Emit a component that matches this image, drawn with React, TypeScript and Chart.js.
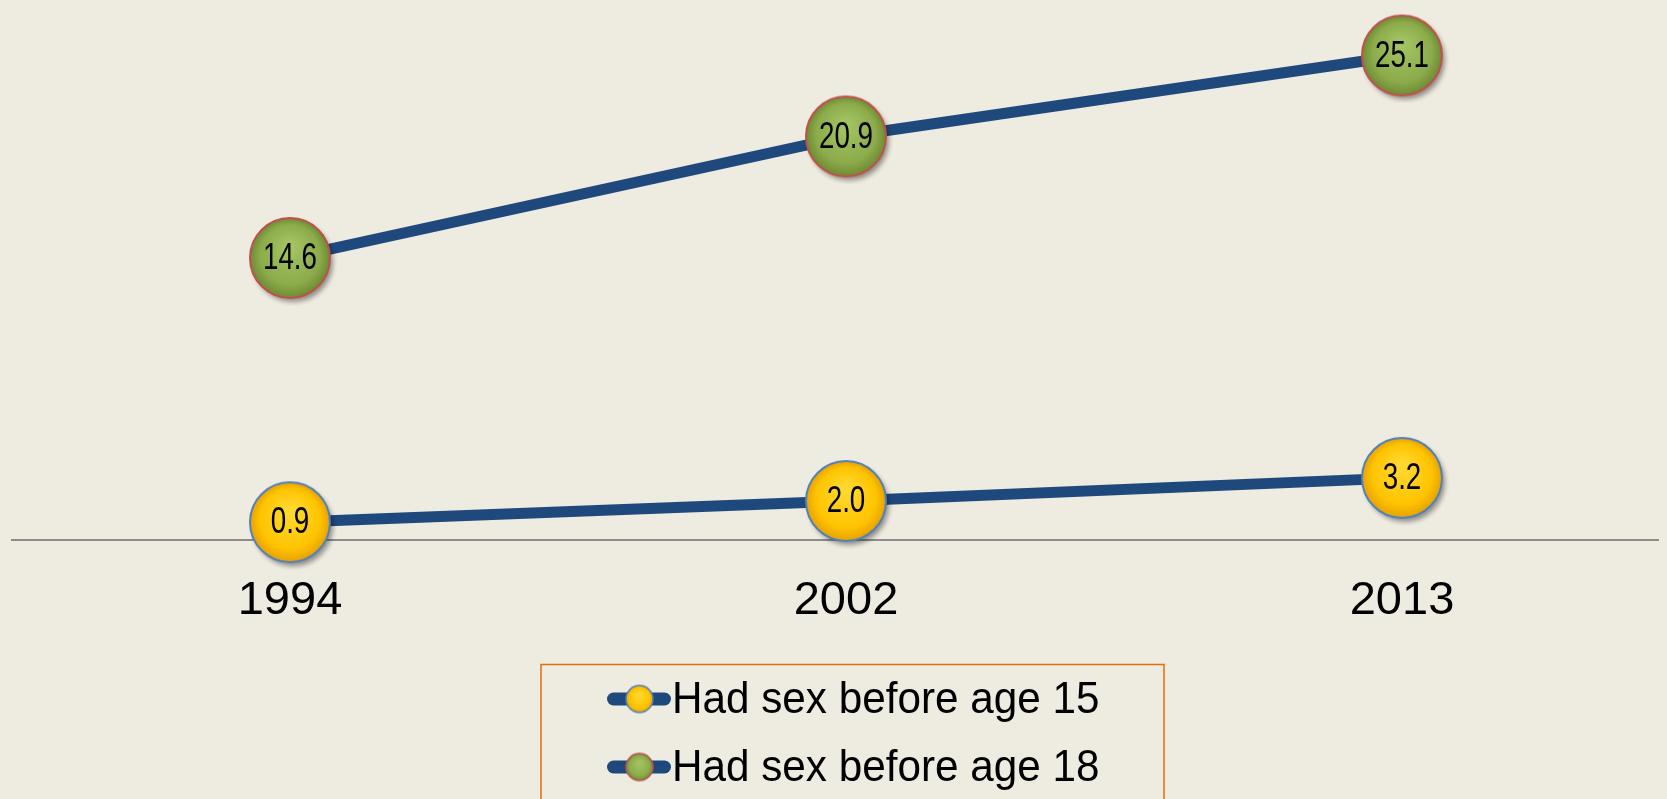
import React, { useEffect, useRef } from "react";
import { Chart, registerables } from "chart.js";

Chart.register(...registerables);

const years = ["1994", "2002", "2013"];
const before15 = [0.9, 2.0, 3.2];
const before18 = [14.6, 20.9, 25.1];
const seriesNames = ["Had sex before age 15", "Had sex before age 18"];

const BG = "#EEEBE0";
const LINE_COLOR = "#1F497D";

type MarkerColors = { inner: string; mid: string; outer: string; border: string };
const yellowMarker: MarkerColors = { inner: "#FFD82E", mid: "#FFC400", outer: "#E8A200", border: "#4F81BD" };
const greenMarker: MarkerColors = { inner: "#A3C262", mid: "#8CAB4B", outer: "#6E8B33", border: "#C0504D" };

function makeMarker(r: number, c: MarkerColors, shadow = true): HTMLCanvasElement {
  const pad = 8;
  const size = Math.ceil(2 * (r + pad));
  const cv = document.createElement("canvas");
  cv.width = size;
  cv.height = size;
  const ctx = cv.getContext("2d")!;
  const cx = size / 2;
  const cy = size / 2;
  if (shadow) {
    ctx.save();
    ctx.shadowColor = "rgba(0,0,0,0.4)";
    ctx.shadowBlur = 5;
    ctx.shadowOffsetX = 3;
    ctx.shadowOffsetY = 4;
    ctx.beginPath();
    ctx.arc(cx, cy, r, 0, Math.PI * 2);
    ctx.fillStyle = c.outer;
    ctx.fill();
    ctx.restore();
  }
  const g = ctx.createRadialGradient(cx, cy - r * 0.3, r * 0.1, cx, cy, r);
  g.addColorStop(0, c.inner);
  g.addColorStop(0.72, c.mid);
  g.addColorStop(1, c.outer);
  ctx.beginPath();
  ctx.arc(cx, cy, r, 0, Math.PI * 2);
  ctx.fillStyle = g;
  ctx.fill();
  ctx.lineWidth = Math.max(1.5, r / 20);
  ctx.strokeStyle = c.border;
  ctx.stroke();
  return cv;
}

const valueLabels = {
  id: "valueLabels",
  afterDatasetsDraw(chart: any) {
    const ctx = chart.ctx;
    chart.data.datasets.forEach((ds: any, i: number) => {
      const meta = chart.getDatasetMeta(i);
      meta.data.forEach((el: any, j: number) => {
        ctx.save();
        ctx.translate(el.x, el.y + 1);
        ctx.scale(0.75, 1);
        ctx.fillStyle = "#000";
        ctx.font = '37px "Liberation Sans", Arial, sans-serif';
        ctx.textAlign = "center";
        ctx.textBaseline = "middle";
        ctx.fillText(Number(ds.data[j]).toFixed(1), 0, 0);
        ctx.restore();
      });
    });
  },
};

const boxLegend = {
  id: "boxLegend",
  afterDraw(chart: any) {
    const ctx = chart.ctx;
    const boxL = 533;
    const boxT = 656.5;
    const boxR = 1156;
    ctx.save();
    ctx.strokeStyle = "#E46C0A";
    ctx.lineWidth = 1.5;
    ctx.strokeRect(boxL, boxT, boxR - boxL, 200);
    const rows = [691, 759];
    chart.data.datasets.forEach((ds: any, i: number) => {
      const y = rows[i];
      ctx.strokeStyle = LINE_COLOR;
      ctx.lineWidth = 13;
      ctx.lineCap = "round";
      ctx.beginPath();
      ctx.moveTo(605.5, y);
      ctx.lineTo(656.5, y);
      ctx.stroke();
      const m = ds._legendMarker as HTMLCanvasElement;
      ctx.drawImage(m, 631.5 - m.width / 2, y - m.width / 2);
      ctx.save();
      ctx.translate(664, y + 2);
      ctx.scale(0.96, 1);
      ctx.fillStyle = "#000";
      ctx.font = '44px "Liberation Sans", Arial, sans-serif';
      ctx.textAlign = "left";
      ctx.textBaseline = "middle";
      ctx.fillText(ds.label, 0, 0);
      ctx.restore();
    });
    ctx.restore();
  },
};

export default function App() {
  const ref = useRef<HTMLCanvasElement | null>(null);

  useEffect(() => {
    document.documentElement.style.background = BG;
    document.body.style.background = BG;
    document.body.style.overflow = "hidden";
    const yMark = makeMarker(40, yellowMarker);
    const gMark = makeMarker(40, greenMarker);
    const yLeg = makeMarker(13.5, yellowMarker, false);
    const gLeg = makeMarker(13.5, greenMarker, false);
    const chart = new Chart(ref.current!, {
      type: "line",
      data: {
        labels: years,
        datasets: [
          {
            label: seriesNames[0],
            data: before15,
            borderColor: LINE_COLOR,
            borderWidth: 11,
            pointStyle: yMark as any,
            pointRadius: 41,
            clip: false as any,
            _legendMarker: yLeg,
          } as any,
          {
            label: seriesNames[1],
            data: before18,
            borderColor: LINE_COLOR,
            borderWidth: 11,
            pointStyle: gMark as any,
            pointRadius: 41,
            clip: false as any,
            _legendMarker: gLeg,
          } as any,
        ],
      },
      options: {
        animation: false,
        responsive: true,
        maintainAspectRatio: false,
        layout: { autoPadding: false, padding: { left: 4, right: 0, top: 0, bottom: 137 } },
        plugins: { legend: { display: false }, tooltip: { enabled: false } },
        scales: {
          x: {
            offset: true,
            grid: { display: false, drawTicks: false },
            border: { display: true, color: "#8C8C8C", width: 2 },
            ticks: {
              color: "#000",
              padding: 33,
              font: { family: '"Liberation Sans", Arial, sans-serif', size: 47 },
            },
          },
          y: {
            display: false,
            min: 0,
            max: 27.56,
          },
        },
      },
      plugins: [valueLabels, boxLegend],
    });
    return () => chart.destroy();
  }, []);

  return (
    <div style={{ width: "1672px", height: "791px", position: "relative" }}>
      <canvas ref={ref} />
    </div>
  );
}
